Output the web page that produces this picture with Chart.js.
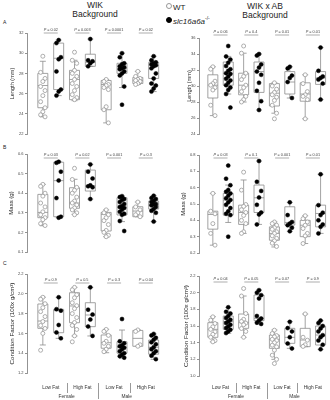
<!DOCTYPE html>
<html>
<head>
<meta charset="utf-8">
<script src="https://cdn.jsdelivr.net/npm/chart.js@4.4.1/dist/chart.umd.min.js"></script>
<style>
html, body { margin: 0; padding: 0; background: #fff; }
body { width: 330px; height: 400px; position: relative; overflow: hidden; font-family: "Liberation Sans", Arial, sans-serif; color: #222; }
canvas { position: absolute; }
.txt { position: absolute; white-space: nowrap; line-height: 1; }
.dot { display: inline-block; width: 4px; height: 4px; border-radius: 50%; margin-right: 1px; vertical-align: 1px; }
</style>
</head>
<body>
<div class="txt" style="left:55px;top:1px;width:80px;text-align:center;font-size:8.5px;line-height:9px">WIK<br>Background</div>
<div class="txt" style="left:225px;top:2px;width:80px;text-align:center;font-size:8.5px;line-height:9px">WIK x AB<br>Background</div>
<div class="txt" style="left:166px;top:3px;font-size:8px;line-height:10px">
  <span class="dot" style="border:0.8px solid #999"></span>WT<br>
  <span class="dot" style="background:#000;border:0.8px solid #000"></span><i>slc16a6a</i><sup style="font-size:5px">-/-</sup>
</div>
<div class="txt" style="left:3px;top:20px;font-size:5px">A</div>
<div class="txt" style="left:3px;top:145px;font-size:5px">B</div>
<div class="txt" style="left:3px;top:261px;font-size:5px">C</div>

<canvas id="aL" width="165" height="140" style="left:0;top:0"></canvas>
<canvas id="aR" width="165" height="140" style="left:165px;top:0"></canvas>
<canvas id="bL" width="165" height="120" style="left:0;top:140px"></canvas>
<canvas id="bR" width="165" height="120" style="left:165px;top:140px"></canvas>
<canvas id="cL" width="165" height="140" style="left:0;top:260px"></canvas>
<canvas id="cR" width="165" height="140" style="left:165px;top:260px"></canvas>

<script>
// groups in order: Female Low Fat, Female High Fat, Male Low Fat, Male High Fat
const dietLabels = ['Low Fat', 'High Fat', 'Low Fat', 'High Fat'];
const sexLabels = ['Female', 'Male'];

// ---- Length (mm), WIK
const lenWikTicks = ['22', '24', '26', '28', '30', '32'];
const lenWikWT = [
  [29.7, 28.1, 27.5, 27.2, 26.7, 26.3, 25.8, 25.2, 24.6, 24.2, 23.9, 23.7],
  [30.1, 29.3, 29.0, 28.3, 28.0, 27.7, 27.4, 27.0, 26.7, 26.3, 25.9, 25.6, 25.4],
  [27.4, 27.2, 26.9, 26.8, 26.6, 26.4, 24.7, 24.4, 23.1],
  [28.2, 27.7, 27.5, 27.4, 27.3, 27.2, 27.0, 26.9]
];
const lenWikMut = [
  [31.3, 31.0, 29.6, 29.4, 28.2, 26.4, 26.2, 25.8],
  [31.4, 29.3, 29.2, 29.0, 28.7],
  [30.0, 29.6, 29.0, 28.9, 28.7, 28.6, 28.5, 28.4, 28.2, 28.0, 27.8, 26.7, 24.9],
  [29.7, 29.3, 29.1, 29.0, 28.9, 28.8, 28.7, 28.5, 28.0, 27.5, 27.0, 26.8, 26.5, 26.2]
];
// [whisker low, q1, median, q3, whisker high]
const lenWikWTBox = [[23.7, 24.6, 26.8, 28.0, 29.2], [25.3, 25.4, 27.4, 28.3, 29.3], [23.1, 24.4, 26.9, 27.3, 27.4], [26.9, 27.0, 27.3, 27.6, 28.2]];
const lenWikMutBox = [[25.8, 26.4, 29.5, 31.0, 31.3], [28.7, 28.7, 29.1, 29.9, 31.4], [26.6, 28.0, 28.5, 29.0, 30.0], [26.2, 27.5, 28.8, 29.1, 29.7]];
const lenWikP = ['0.02', '0.003', '0.0001', '0.02'];

// ---- Length (mm), WIK x AB
const lenAbTicks = ['24', '26', '28', '30', '32', '34', '36'];
const lenAbWT = [
  [32.4, 32.1, 30.6, 30.3, 30.1, 29.8, 29.5, 27.6, 26.3],
  [35.0, 34.1, 31.6, 31.2, 30.8, 30.1, 29.8, 29.3, 28.7, 28.3, 28.0],
  [30.4, 30.0, 29.6, 29.2, 28.9, 28.6, 28.2, 27.6, 26.6, 25.9],
  [31.4, 30.3, 29.3, 28.9, 28.7, 28.3, 25.9]
];
const lenAbMut = [
  [35.0, 33.7, 33.3, 32.9, 32.5, 32.1, 31.9, 31.6, 31.5, 31.2, 30.9, 30.7, 30.4, 30.1, 29.8, 29.5, 29.0, 27.3],
  [34.0, 33.8, 32.7, 32.3, 31.8, 31.4, 30.4, 29.4, 28.1, 27.0],
  [32.4, 32.2, 31.3, 31.0, 30.5, 28.5],
  [34.8, 31.9, 31.2, 31.0, 30.8, 30.3, 28.3]
];
const lenAbWTBox = [[26.3, 28.5, 30.1, 31.4, 32.4], [28.0, 28.9, 30.1, 31.6, 34.1], [26.6, 27.5, 29.1, 30.3, 30.4], [25.9, 28.1, 29.0, 30.4, 31.4]];
const lenAbMutBox = [[29.0, 30.1, 31.6, 33.0, 33.7], [27.0, 29.2, 31.8, 33.0, 34.0], [28.5, 29.0, 30.5, 31.8, 32.4], [28.3, 30.2, 31.0, 31.8, 34.8]];
const lenAbP = ['0.06', '0.4', '0.01', '0.01'];

// ---- Mass (g), WIK
const massWikTicks = ['0.1', '0.2', '0.3', '0.4', '0.5', '0.6'];
const massWikWT = [
  [0.445, 0.435, 0.40, 0.385, 0.35, 0.33, 0.305, 0.29, 0.275, 0.265, 0.245, 0.235],
  [0.527, 0.47, 0.43, 0.415, 0.40, 0.38, 0.36, 0.35, 0.34, 0.325, 0.315, 0.30, 0.29],
  [0.315, 0.30, 0.29, 0.275, 0.26, 0.24, 0.21, 0.20, 0.185, 0.178],
  [0.355, 0.33, 0.315, 0.30, 0.29, 0.28]
];
const massWikMut = [
  [0.56, 0.555, 0.51, 0.465, 0.375, 0.28, 0.275],
  [0.547, 0.51, 0.475, 0.44, 0.435, 0.43, 0.37],
  [0.385, 0.38, 0.37, 0.365, 0.355, 0.345, 0.335, 0.33, 0.325, 0.315, 0.305, 0.295, 0.29, 0.258, 0.207],
  [0.387, 0.375, 0.37, 0.36, 0.355, 0.345, 0.342, 0.338, 0.33, 0.32, 0.31, 0.30, 0.255]
];
const massWikWTBox = [[0.234, 0.275, 0.302, 0.394, 0.445], [0.292, 0.323, 0.35, 0.428, 0.471], [0.178, 0.207, 0.292, 0.302, 0.315], [0.28, 0.28, 0.309, 0.331, 0.355]];
const massWikMutBox = [[0.275, 0.28, 0.464, 0.558, 0.56], [0.37, 0.411, 0.438, 0.518, 0.547], [0.255, 0.289, 0.326, 0.377, 0.385], [0.255, 0.319, 0.34, 0.36, 0.387]];
const massWikP = ['0.03', '0.02', '0.001', '0.3'];

// ---- Mass (g), WIK x AB
const massAbTicks = ['0.2', '0.3', '0.4', '0.5', '0.6', '0.7', '0.8'];
const massAbWT = [
  [0.565, 0.456, 0.44, 0.38, 0.32, 0.248],
  [0.695, 0.585, 0.497, 0.485, 0.465, 0.448, 0.43, 0.40, 0.38, 0.33, 0.32],
  [0.39, 0.38, 0.37, 0.355, 0.345, 0.33, 0.32, 0.305, 0.29, 0.275, 0.26, 0.24],
  [0.428, 0.41, 0.39, 0.37, 0.35, 0.32, 0.305, 0.258]
];
const massAbMut = [
  [0.735, 0.655, 0.615, 0.585, 0.575, 0.565, 0.55, 0.535, 0.525, 0.51, 0.495, 0.475, 0.455, 0.44, 0.432, 0.30],
  [0.763, 0.636, 0.58, 0.54, 0.495, 0.448, 0.436, 0.375],
  [0.51, 0.432, 0.39, 0.38, 0.37, 0.355, 0.333],
  [0.682, 0.493, 0.447, 0.432, 0.40, 0.375, 0.36, 0.32]
];
const massAbWTBox = [[0.248, 0.346, 0.436, 0.456, 0.565], [0.32, 0.375, 0.448, 0.493, 0.647], [0.237, 0.278, 0.32, 0.36, 0.39], [0.258, 0.30, 0.37, 0.40, 0.428]];
const massAbMutBox = [[0.387, 0.432, 0.524, 0.565, 0.616], [0.375, 0.448, 0.538, 0.616, 0.763], [0.333, 0.371, 0.387, 0.483, 0.51], [0.32, 0.36, 0.442, 0.493, 0.682]];
const massAbP = ['0.03', '0.1', '0.001', '0.01'];

// ---- Condition factor, WIK
const cfWikTicks = ['1.2', '1.4', '1.6', '1.8', '2.0', '2.2'];
const cfWikWT = [
  [1.965, 1.945, 1.90, 1.86, 1.82, 1.77, 1.72, 1.68, 1.65, 1.60, 1.43],
  [2.065, 2.04, 1.99, 1.96, 1.91, 1.88, 1.85, 1.80, 1.76, 1.71, 1.68, 1.64, 1.575, 1.515],
  [1.64, 1.62, 1.58, 1.52, 1.50, 1.47, 1.44, 1.415],
  [1.635, 1.62, 1.485, 1.47]
];
const cfWikMut = [
  [1.965, 1.845, 1.83, 1.685, 1.61, 1.55],
  [2.065, 1.84, 1.79, 1.74, 1.67, 1.575],
  [1.745, 1.52, 1.50, 1.48, 1.47, 1.455, 1.44, 1.42, 1.40, 1.385, 1.37, 1.355],
  [1.595, 1.58, 1.555, 1.535, 1.51, 1.49, 1.46, 1.44, 1.42, 1.40, 1.375, 1.34]
];
const cfWikWTBox = [[1.483, 1.651, 1.725, 1.897, 1.965], [1.574, 1.708, 1.877, 2.011, 2.065], [1.405, 1.45, 1.506, 1.584, 1.641], [1.47, 1.47, 1.55, 1.63, 1.635]];
const cfWikMutBox = [[1.55, 1.607, 1.83, 1.843, 1.965], [1.574, 1.668, 1.786, 1.91, 2.065], [1.35, 1.40, 1.46, 1.516, 1.634], [1.338, 1.39, 1.46, 1.533, 1.594]];
const cfWikP = ['0.9', '0.5', '0.3', '0.04'];

// ---- Condition factor, WIK x AB
const cfAbTicks = ['1.0', '1.2', '1.4', '1.6', '1.8', '2.0', '2.2'];
const cfAbWT = [
  [1.71, 1.67, 1.63, 1.59, 1.56, 1.53, 1.50, 1.465, 1.425, 1.41],
  [2.05, 1.96, 1.75, 1.68, 1.655, 1.635, 1.615, 1.57, 1.535, 1.465],
  [1.55, 1.51, 1.485, 1.47, 1.44, 1.425, 1.40, 1.37, 1.35, 1.31, 1.25, 1.20, 1.15],
  [1.745, 1.465, 1.43, 1.375, 1.355]
];
const cfAbMut = [
  [1.825, 1.77, 1.75, 1.72, 1.695, 1.675, 1.655, 1.635, 1.615, 1.595, 1.575, 1.555, 1.535, 1.515],
  [2.03, 2.0, 1.97, 1.93, 1.72, 1.69, 1.665, 1.64, 1.625],
  [1.65, 1.575, 1.535, 1.465, 1.39, 1.33],
  [1.665, 1.635, 1.60, 1.57, 1.535, 1.49, 1.465, 1.425, 1.375, 1.32]
];
const cfAbWTBox = [[1.41, 1.464, 1.56, 1.64, 1.712], [1.464, 1.572, 1.64, 1.744, 1.96], [1.20, 1.332, 1.44, 1.492, 1.552], [1.352, 1.352, 1.432, 1.572, 1.744]];
const cfAbMutBox = [[1.512, 1.56, 1.652, 1.72, 1.824], [1.624, 1.664, 1.692, 1.972, 2.032], [1.332, 1.392, 1.464, 1.572, 1.652], [1.32, 1.372, 1.492, 1.60, 1.664]];
const cfAbP = ['0.04', '0.05', '0.07', '0.9'];

const FAM = '"Liberation Sans", Arial, sans-serif';
const BOXCOL = '#8c8c8c';
const jitter = [0, -0.14, 0.14];

function toPoints(groups, first) {
  const out = [];
  groups.forEach((vals, g) => {
    vals.forEach((v, k) => out.push({ x: first + 2 * g + jitter[k % 3], y: v }));
  });
  return out;
}

const boxPlugin = {
  id: 'boxes',
  beforeDatasetsDraw(chart, args, o) {
    const { ctx, chartArea } = chart;
    const x = chart.scales.x, y = chart.scales.y;
    ctx.save();
    ctx.strokeStyle = BOXCOL;
    ctx.lineWidth = 0.8;
    const drawBox = (b, pos) => {
      const px = x.getPixelForValue(pos);
      const [lo, q1, med, q3, hi] = b.map(v => y.getPixelForValue(v));
      ctx.beginPath();
      ctx.rect(px - 5, q3, 10, q1 - q3);
      ctx.moveTo(px - 5, med); ctx.lineTo(px + 5, med);
      ctx.moveTo(px, q3); ctx.lineTo(px, hi);
      ctx.moveTo(px - 3, hi); ctx.lineTo(px + 3, hi);
      ctx.moveTo(px, q1); ctx.lineTo(px, lo);
      ctx.moveTo(px - 3, lo); ctx.lineTo(px + 3, lo);
      ctx.stroke();
    };
    o.wtBox.forEach((b, g) => drawBox(b, 1 + 2 * g));
    o.mutBox.forEach((b, g) => drawBox(b, 2 + 2 * g));

    // P values over each pair
    const lineY = chartArea.top + o.pLine;
    o.pvals.forEach((p, g) => {
      const cx = x.getPixelForValue(1.5 + 2 * g);
      ctx.strokeStyle = '#777';
      ctx.lineWidth = 0.6;
      ctx.beginPath(); ctx.moveTo(cx - 7, lineY); ctx.lineTo(cx + 7, lineY); ctx.stroke();
      ctx.fillStyle = '#444';
      ctx.textBaseline = 'alphabetic';
      ctx.font = 'italic 3.8px ' + FAM;
      const wP = ctx.measureText('P').width;
      ctx.font = '3.8px ' + FAM;
      const rest = ' = ' + p;
      const w = wP + ctx.measureText(rest).width;
      ctx.font = 'italic 3.8px ' + FAM;
      ctx.fillText('P', cx - w / 2, lineY - 2.5);
      ctx.font = '3.8px ' + FAM;
      ctx.fillText(rest, cx - w / 2 + wP, lineY - 2.5);
    });
    ctx.restore();
  },
  afterDraw(chart, args, o) {
    if (!o.xLabels) return;
    const { ctx } = chart;
    const x = chart.scales.x;
    ctx.save();
    ctx.fillStyle = '#333';
    ctx.strokeStyle = '#555';
    ctx.lineWidth = 0.6;
    ctx.font = '4.8px ' + FAM;
    ctx.textAlign = 'center';
    ctx.textBaseline = 'middle';
    dietLabels.forEach((t, g) => ctx.fillText(t, x.getPixelForValue(1.5 + 2 * g), 128));
    sexLabels.forEach((t, g) => ctx.fillText(t, x.getPixelForValue(2.5 + 3.8 * g), 137));
    [2.5, 4.5, 6.5].forEach(v => {
      const px = Math.round(x.getPixelForValue(v)) + 0.5;
      ctx.beginPath();
      ctx.moveTo(px, 123);
      ctx.lineTo(px, v === 4.5 ? 139 : 133);
      ctx.stroke();
    });
    ctx.restore();
  }
};

function makePanel(id, c) {
  const tickVals = c.ticks.map(Number);
  new Chart(document.getElementById(id), {
    type: 'scatter',
    data: {
      datasets: [
        { data: toPoints(c.wt, 1), pointRadius: 2, backgroundColor: '#fff', borderColor: '#9a9a9a', borderWidth: 0.8 },
        { data: toPoints(c.mut, 2), pointRadius: 2, backgroundColor: '#000', borderColor: '#000', borderWidth: 0.5 }
      ]
    },
    options: {
      responsive: false,
      animation: false,
      events: [],
      layout: { padding: { top: c.padTop, bottom: c.padBottom, right: c.padRight, left: 0 } },
      scales: {
        x: { type: 'linear', display: false, min: c.xMin, max: c.xMax },
        y: {
          min: tickVals[0],
          max: tickVals[tickVals.length - 1],
          afterBuildTicks: s => { s.ticks = tickVals.map(v => ({ value: v })); },
          afterFit: s => { s.width = c.axisWidth; },
          border: { display: true, color: '#777', width: 0.8 },
          grid: { display: true, drawOnChartArea: false, drawTicks: true, tickLength: 2, color: '#777', lineWidth: 0.8 },
          ticks: {
            font: { size: 4, family: FAM },
            color: '#444',
            padding: 1.5,
            callback: (v, i) => c.ticks[i]
          },
          title: {
            display: true,
            text: c.title,
            color: '#222',
            font: { size: c.titleSize, family: FAM },
            padding: { top: c.titleX - c.titleSize * 0.6, bottom: 0 }
          }
        }
      },
      plugins: {
        legend: { display: false },
        tooltip: { enabled: false },
        boxes: {
          wtBox: c.wtBox, mutBox: c.mutBox, pvals: c.pvals, pLine: c.pLine, xLabels: !!c.xLabels
        }
      }
    },
    plugins: [boxPlugin]
  });
}

const left = { xMin: 0, xMax: 8.4, axisWidth: 27, padRight: 5 };
const right = { xMin: 0.1, xMax: 8.3, axisWidth: 34, padRight: 4 };

makePanel('aL', Object.assign({}, left, {
  ticks: lenWikTicks, wt: lenWikWT, mut: lenWikMut, wtBox: lenWikWTBox, mutBox: lenWikMutBox, pvals: lenWikP,
  title: 'Length (mm)', titleSize: 5.6, titleX: 12, padTop: 33, padBottom: 6, pLine: 0
}));
makePanel('aR', Object.assign({}, right, {
  ticks: lenAbTicks, wt: lenAbWT, mut: lenAbMut, wtBox: lenAbWTBox, mutBox: lenAbMutBox, pvals: lenAbP,
  title: 'Length (mm)', titleSize: 5.6, titleX: 24, padTop: 38, padBottom: 6, pLine: -3
}));
makePanel('bL', Object.assign({}, left, {
  ticks: massWikTicks, wt: massWikWT, mut: massWikMut, wtBox: massWikWTBox, mutBox: massWikMutBox, pvals: massWikP,
  title: 'Mass (g)', titleSize: 6, titleX: 11, padTop: 14, padBottom: 8, pLine: 4
}));
makePanel('bR', Object.assign({}, right, {
  ticks: massAbTicks, wt: massAbWT, mut: massAbMut, wtBox: massAbWTBox, mutBox: massAbMutBox, pvals: massAbP,
  title: 'Mass (g)', titleSize: 6, titleX: 18, padTop: 15, padBottom: 7, pLine: 3
}));
makePanel('cL', Object.assign({}, left, {
  ticks: cfWikTicks, wt: cfWikWT, mut: cfWikMut, wtBox: cfWikWTBox, mutBox: cfWikMutBox, pvals: cfWikP,
  title: 'Condition Factor (100x g/cm³)', titleSize: 6.2, titleX: 12, padTop: 14, padBottom: 27, pLine: 9, xLabels: true
}));
makePanel('cR', Object.assign({}, right, {
  ticks: cfAbTicks, wt: cfAbWT, mut: cfAbMut, wtBox: cfAbWTBox, mutBox: cfAbMutBox, pvals: cfAbP,
  title: 'Condition Factor (100x g/cm³)', titleSize: 6.2, titleX: 21, padTop: 16, padBottom: 24, pLine: 6, xLabels: true
}));
</script>
</body>
</html>
